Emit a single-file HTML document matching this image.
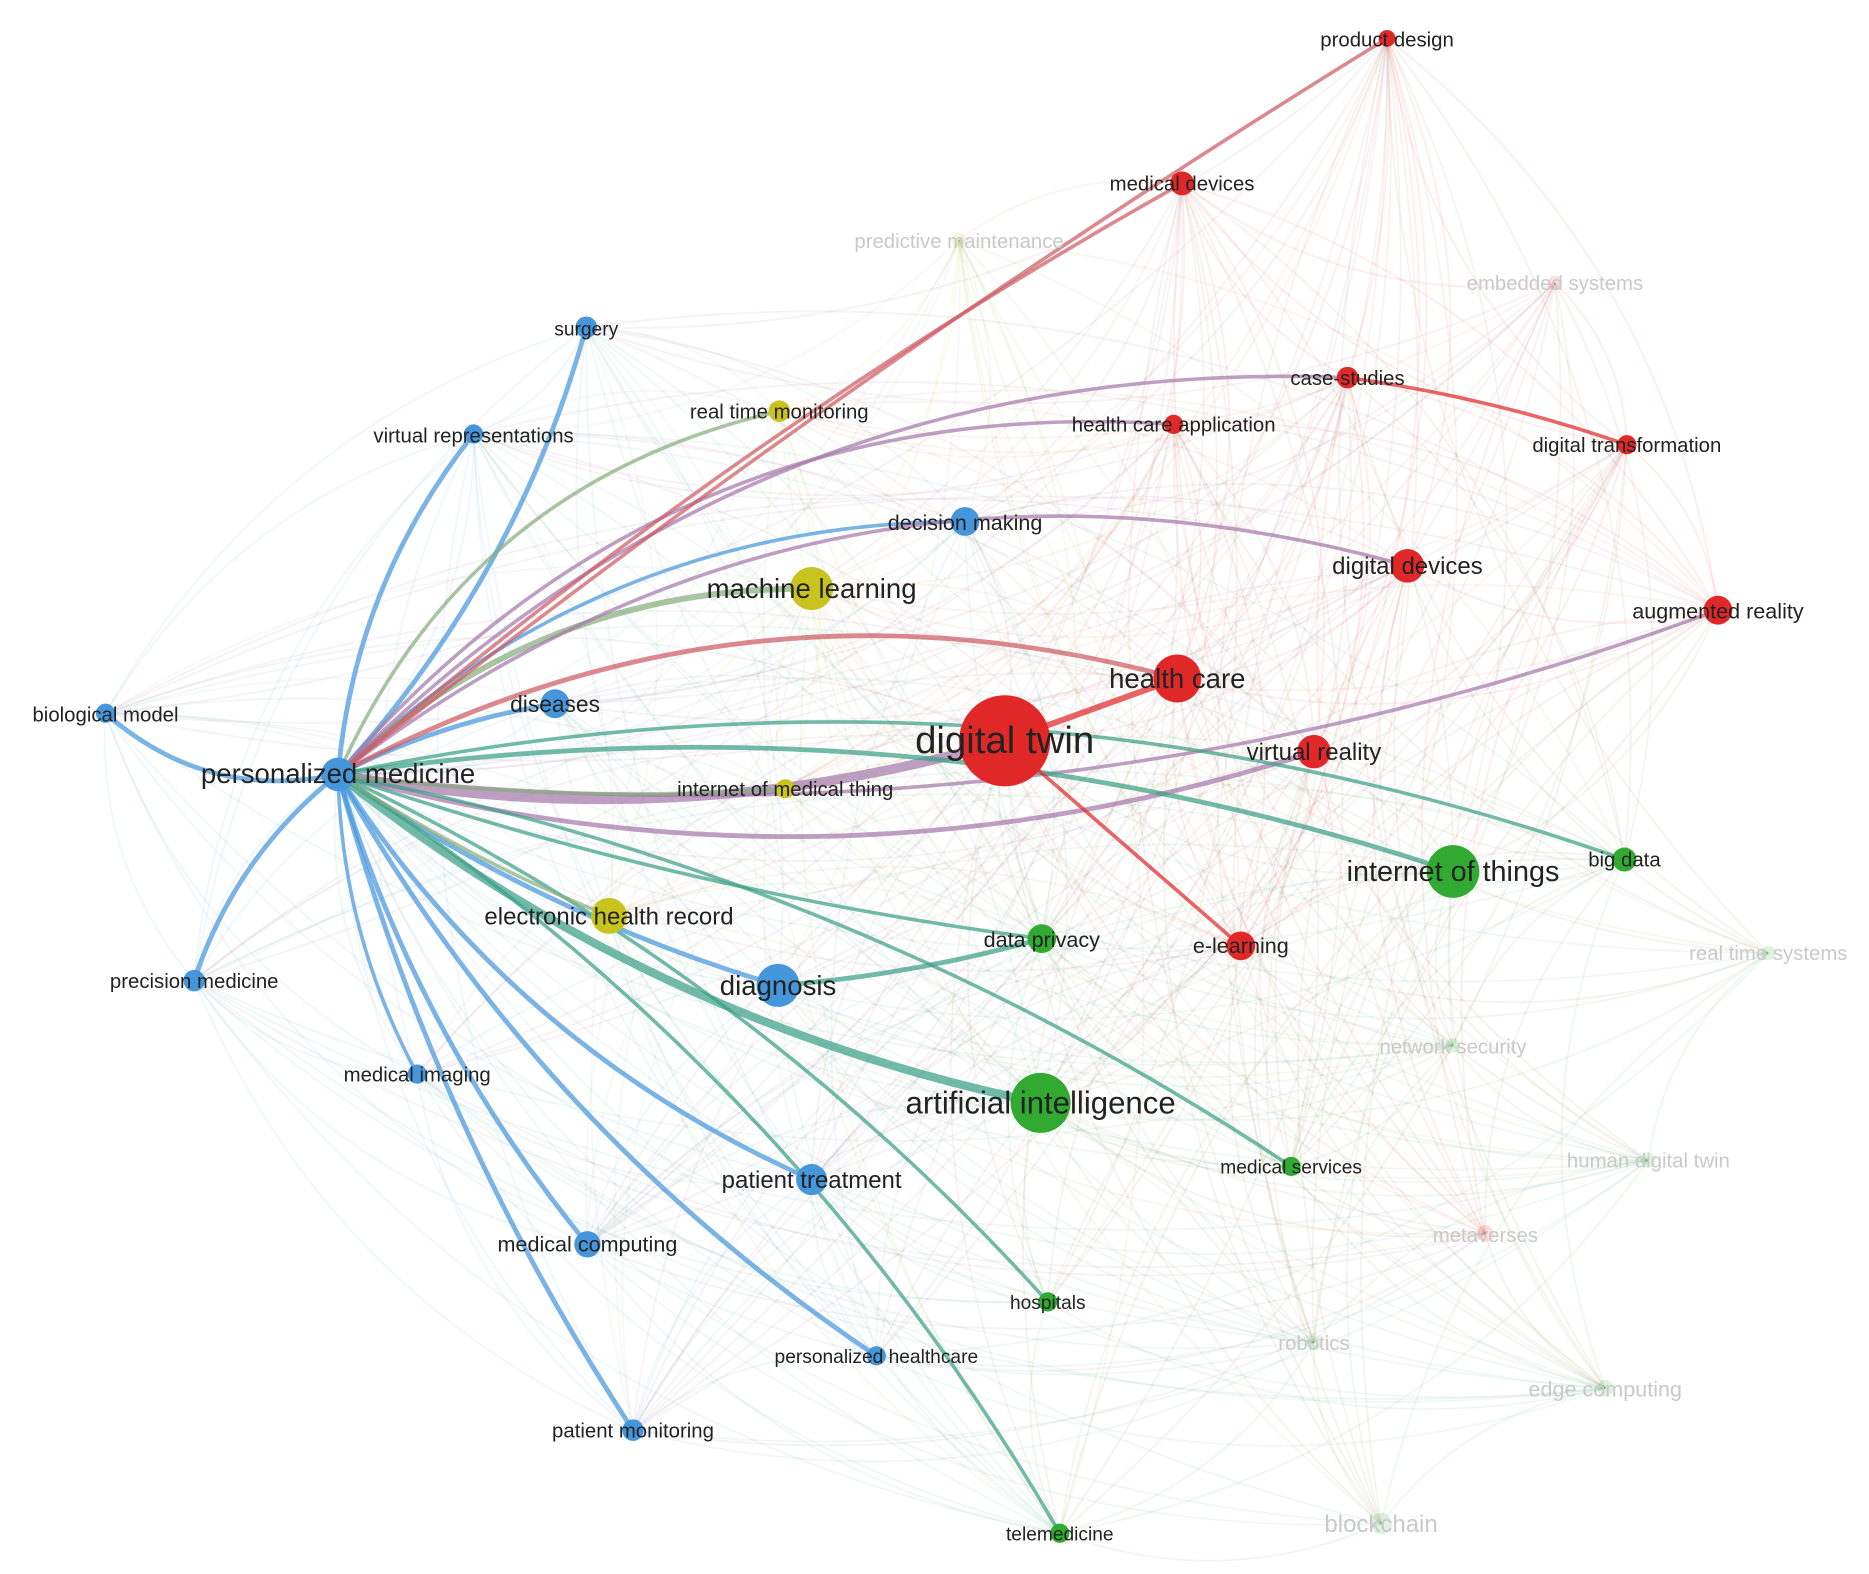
<!DOCTYPE html>
<html><head><meta charset="utf-8"><style>
html,body{margin:0;padding:0;background:#fff;}
svg{display:block;}
text{font-family:"Liberation Sans",sans-serif;fill:#222;}
.f{fill:#c9c9c9;}
</style></head><body>
<svg id="s" width="1869" height="1574" viewBox="0 0 1559 1313" preserveAspectRatio="none" xmlns="http://www.w3.org/2000/svg">
<g id="bg"></g>
<g id="main" fill="none" stroke-linecap="round"></g>
<g id="nodes"></g>
<g id="labels">
<text x="1157" y="39" font-size="17" text-anchor="middle">product design</text>
<text x="986" y="159" font-size="17" text-anchor="middle">medical devices</text>
<text class="f" x="800" y="207" font-size="17" text-anchor="middle">predictive maintenance</text>
<text class="f" x="1297" y="242" font-size="17" text-anchor="middle">embedded systems</text>
<text x="489" y="280" font-size="16" text-anchor="middle">surgery</text>
<text x="1124" y="321" font-size="17" text-anchor="middle">case-studies</text>
<text x="650" y="349" font-size="17" text-anchor="middle">real time monitoring</text>
<text x="979" y="360" font-size="17" text-anchor="middle">health care application</text>
<text x="395" y="369" font-size="17" text-anchor="middle">virtual representations</text>
<text x="1357" y="377" font-size="17" text-anchor="middle">digital transformation</text>
<text x="805" y="442" font-size="18" text-anchor="middle">decision making</text>
<text x="1174" y="479" font-size="20" text-anchor="middle">digital devices</text>
<text x="677" y="499" font-size="23" text-anchor="middle">machine learning</text>
<text x="1433" y="516" font-size="18" text-anchor="middle">augmented reality</text>
<text x="982" y="574" font-size="23" text-anchor="middle">health care</text>
<text x="463" y="594" font-size="19" text-anchor="middle">diseases</text>
<text x="88" y="602" font-size="17" text-anchor="middle">biological model</text>
<text x="838" y="628" font-size="32" text-anchor="middle">digital twin</text>
<text x="1096" y="634" font-size="20" text-anchor="middle">virtual reality</text>
<text x="282" y="653" font-size="23" text-anchor="middle">personalized medicine</text>
<text x="655" y="664" font-size="17" text-anchor="middle">internet of medical thing</text>
<text x="1212" y="735" font-size="24" text-anchor="middle">internet of things</text>
<text x="1355" y="723" font-size="17" text-anchor="middle">big data</text>
<text x="508" y="771" font-size="20" text-anchor="middle">electronic health record</text>
<text x="869" y="790" font-size="18" text-anchor="middle">data privacy</text>
<text x="1035" y="795" font-size="18" text-anchor="middle">e-learning</text>
<text class="f" x="1475" y="801" font-size="17" text-anchor="middle">real time systems</text>
<text x="162" y="824" font-size="17" text-anchor="middle">precision medicine</text>
<text x="649" y="830" font-size="23" text-anchor="middle">diagnosis</text>
<text class="f" x="1212" y="879" font-size="17" text-anchor="middle">network security</text>
<text x="348" y="902" font-size="17" text-anchor="middle">medical imaging</text>
<text x="868" y="929" font-size="26" text-anchor="middle">artificial intelligence</text>
<text class="f" x="1375" y="974" font-size="17" text-anchor="middle">human digital twin</text>
<text x="1077" y="979" font-size="16" text-anchor="middle">medical services</text>
<text x="677" y="991" font-size="20" text-anchor="middle">patient treatment</text>
<text class="f" x="1239" y="1036" font-size="17" text-anchor="middle">metaverses</text>
<text x="490" y="1044" font-size="18" text-anchor="middle">medical computing</text>
<text x="874" y="1092" font-size="16" text-anchor="middle">hospitals</text>
<text class="f" x="1096" y="1126" font-size="17" text-anchor="middle">robotics</text>
<text x="731" y="1137" font-size="16" text-anchor="middle">personalized healthcare</text>
<text class="f" x="1339" y="1165" font-size="18" text-anchor="middle">edge computing</text>
<text x="528" y="1199" font-size="17" text-anchor="middle">patient monitoring</text>
<text x="884" y="1285" font-size="16" text-anchor="middle">telemedicine</text>
<text class="f" x="1152" y="1278" font-size="20" text-anchor="middle">blockchain</text>
</g>
</svg>
<script>
var C={b:[70,150,220],r:[225,40,40],y:[200,195,30],g:[50,170,50]};
var N={
pm:[282,646,14,'b'],dt:[838,618,38,'r'],hc:[982,566,20,'r'],ml:[677,491,18,'y'],dg:[649,822,18,'b'],
ai:[868,920,25,'g'],iot:[1212,727,22,'g'],vr:[1096,627,14,'r'],dd:[1174,472,14,'r'],ar:[1433,509,12,'r'],
bd:[1355,717,10,'g'],el:[1035,789,12,'r'],dp:[869,783,12,'g'],ehr:[508,764,15,'y'],ds:[463,587,12,'b'],
imt:[655,658,8,'y'],dm:[805,435,12,'b'],rtm:[650,343,9,'y'],vrep:[395,362,8,'b'],su:[489,273,9,'b'],
bm:[88,595,8,'b'],prm:[162,818,9,'b'],mi:[348,896,8,'b'],pt:[677,984,13,'b'],mc:[490,1038,11,'b'],
ph:[731,1131,8,'b'],pmo:[528,1193,9,'b'],ho:[874,1086,8,'g'],tm:[884,1279,8,'g'],ms:[1077,973,8,'g'],
pd:[1157,32,7,'r'],md:[986,153,10,'r'],cs:[1124,315,9,'r'],hca:[979,354,8,'r'],dtr:[1357,371,8,'r'],
f1:[800,200,6,'y',1],f2:[1297,236,6,'r',1],f3:[1475,795,6,'g',1],f4:[1212,872,6,'g',1],f5:[1375,968,6,'g',1],
f6:[1239,1029,7,'r',1],f7:[1096,1120,6,'g',1],f8:[1339,1158,7,'g',1],f9:[1152,1271,9,'g',1]};
var ns="http://www.w3.org/2000/svg";
function el(t,a,p){var e=document.createElementNS(ns,t);for(var k in a)e.setAttribute(k,a[k]);p.appendChild(e);return e;}
function rgb(c,a){return 'rgba('+c.join(',')+','+a+')';}
function mix(a,b){return [0,1,2].map(function(i){return Math.round((a[i]+b[i])/2)});}
function path(a,b,bend){var dx=b[0]-a[0],dy=b[1]-a[1];var mx=(a[0]+b[0])/2,my=(a[1]+b[1])/2;
var cx=mx-dy*bend,cy=my+dx*bend;return 'M'+a[0]+' '+a[1]+' Q'+cx+' '+cy+' '+b[0]+' '+b[1];}
var bg=document.getElementById('bg'),keys=Object.keys(N);
var seed=7;function rnd(){seed=(seed*9301+49297)%233280;return seed/233280;}
for(var i=0;i<keys.length;i++)for(var j=i+1;j<keys.length;j++){if(rnd()<0.45){var a=N[keys[i]],b=N[keys[j]];
el('path',{d:path(a,b,0.2),stroke:rgb(mix(C[a[3]],C[b[3]]),0.08),'stroke-width':1.5,fill:'none'},bg);}}
var M=[['pm','su',0.12,4],['pm','vrep',-0.15,4],['pm','bm',-0.25,4],['pm','prm',0.15,4],['pm','mi',0.12,3],
['pm','mc',0.1,4],['pm','pmo',0.08,4],['pm','pt',0.15,4],['pm','ph',0.12,4],['pm','dg',0.08,4],['pm','ds',-0.08,4],
['pm','dm',-0.2,3],['pm','rtm',-0.25,3],['pm','ml',-0.2,5],['pm','hca',-0.25,3],['pm','cs',-0.22,3],['pm','dd',-0.25,3],
['pm','dt',0.12,8],['pm','vr',0.15,4],['pm','ar',0.12,3],['pm','iot',-0.12,4],['pm','bd',-0.14,3],['pm','ai',0.12,7],
['pm','ho',-0.1,3],['pm','tm',-0.12,3],['pm','ms',-0.1,3],['pm','dp',0.05,3],['pm','ehr',0.05,3],['pm','imt',0.05,3],
['pm','hc',-0.2,4],['pm','md',-0.05,3],['pm','pd',-0.03,3],['dt','hc',0,5],['dt','el',0,3],
['dg','dp',0.05,4],['cs','dtr',-0.05,3]];
var mg=document.getElementById('main');
M.forEach(function(m){var a=N[m[0]],b=N[m[1]];var c=a[3]==b[3]?C[a[3]]:mix(C[a[3]],C[b[3]]);
if(m[0]=='pm'&&b[3]=='r')c=[165,120,170];
if(m[0]=='pm'&&(m[1]=='pd'||m[1]=='md'||m[1]=='hc'))c=[205,90,100];
el('path',{d:path(a,b,m[2]),stroke:rgb(c,0.72),'stroke-width':m[3]},mg);});
var ng=document.getElementById('nodes');
keys.forEach(function(k){var n=N[k];var c=C[n[3]];el('circle',{cx:n[0],cy:n[1],r:n[2],fill:rgb(c,n[4]?0.15:1)},ng);});
</script>
</body></html>
